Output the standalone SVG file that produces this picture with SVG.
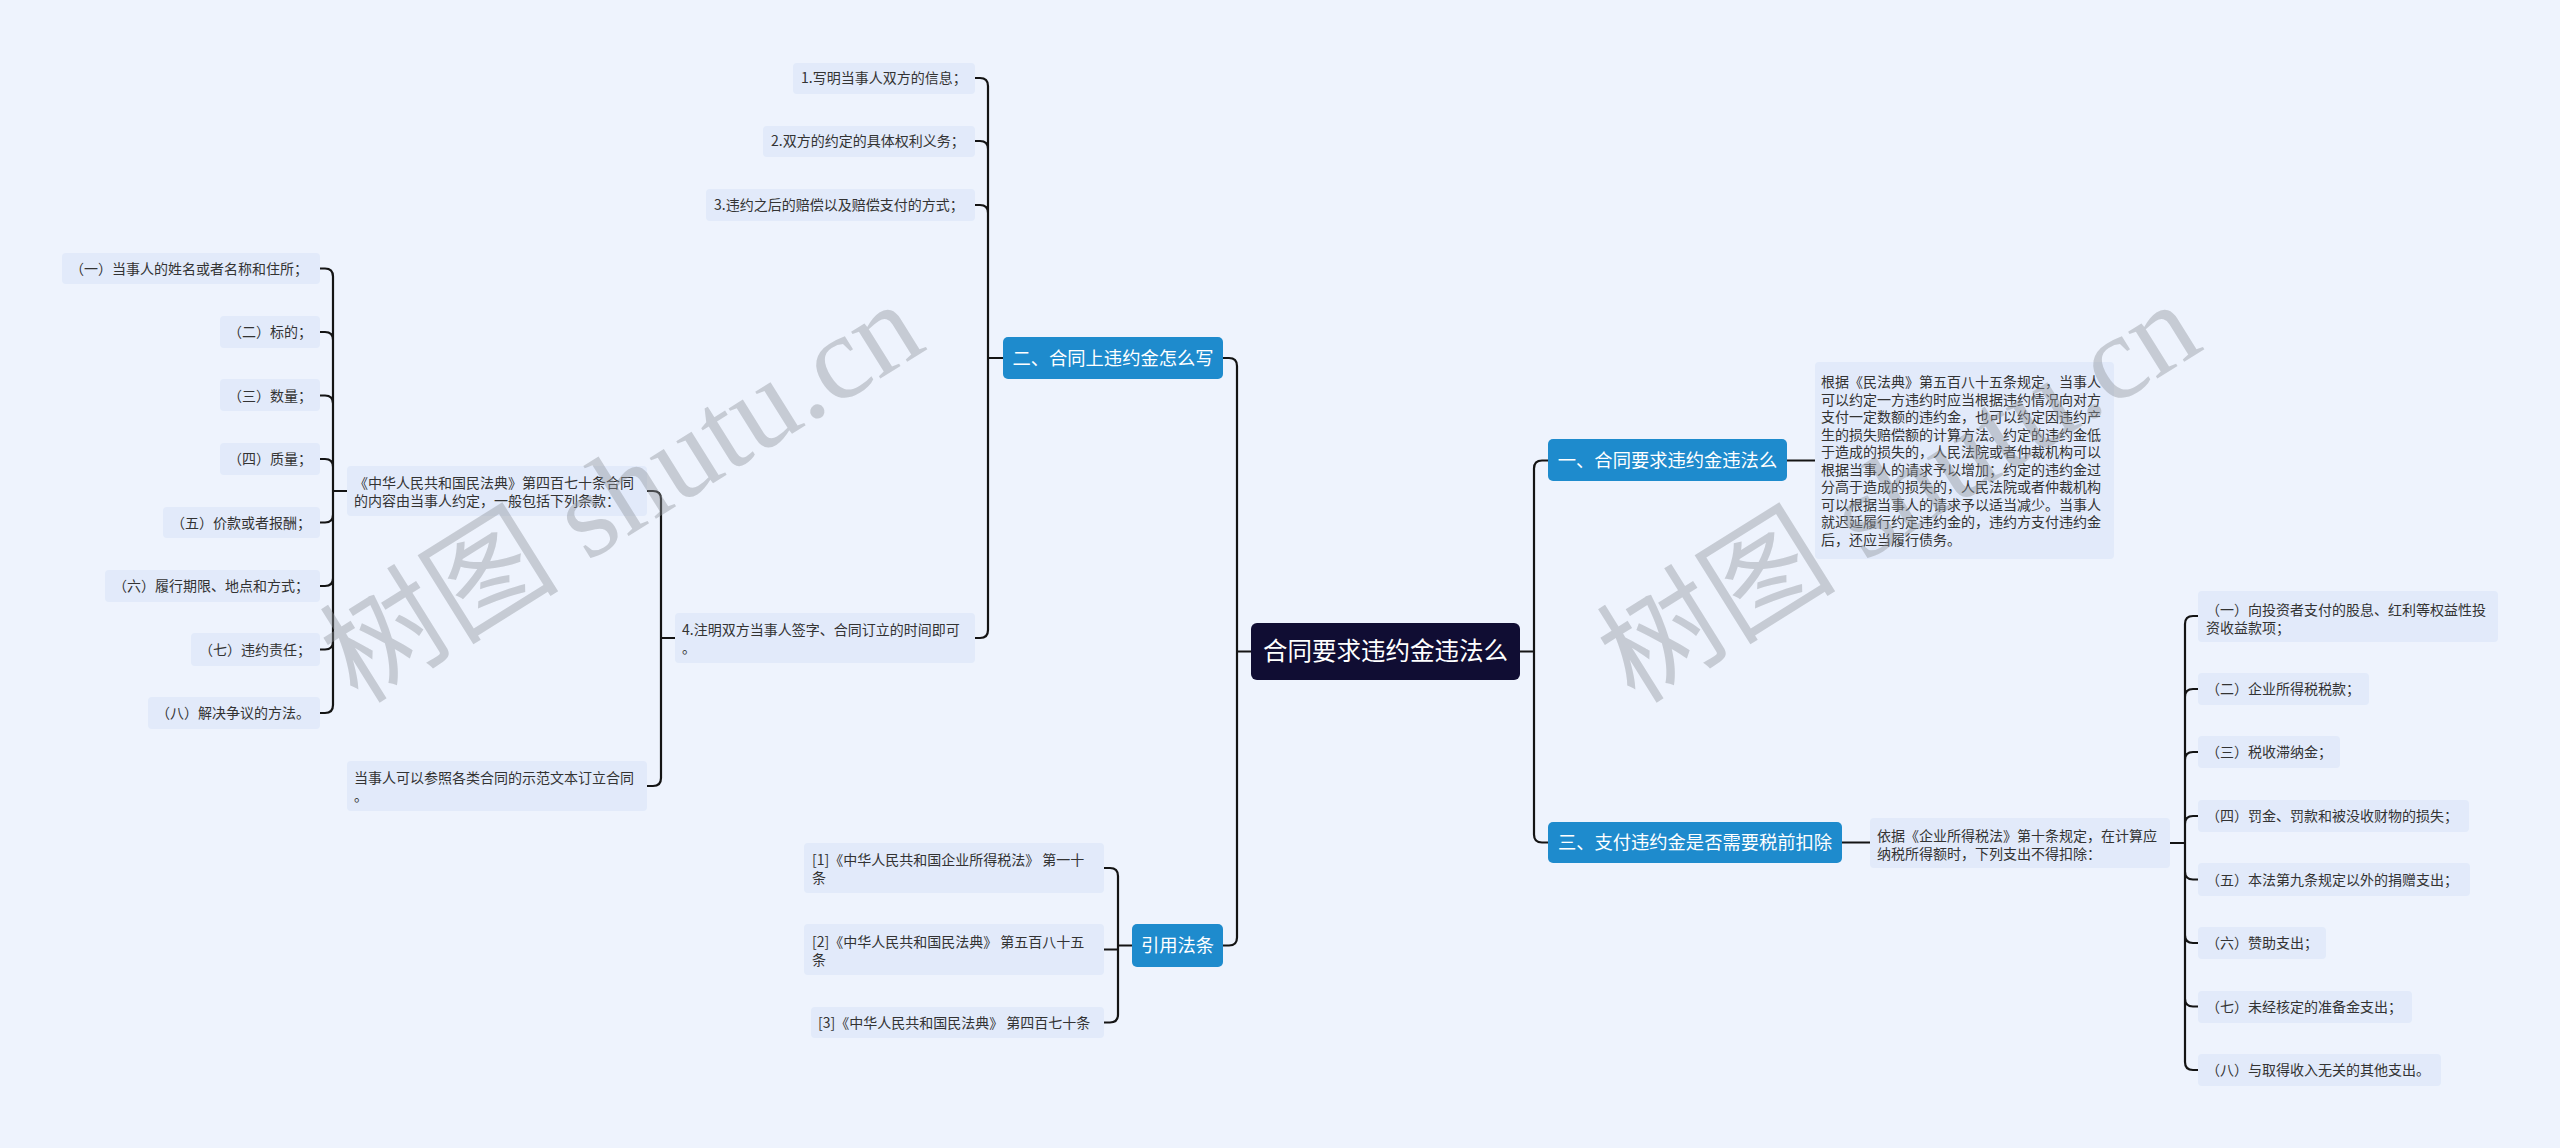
<svg xmlns="http://www.w3.org/2000/svg" width="2560" height="1148" viewBox="0 0 2560 1148">
<style>
.bg{fill:#eef3fd}
.n{fill:#e2eafa}
.b{fill:#1e8bcd}
.r{fill:#100d33}
.t{font-family:"Noto Sans CJK SC","Noto Sans",sans-serif;font-size:14px;fill:#333}
.bt{font-family:"Noto Sans CJK SC","Noto Sans",sans-serif;font-size:18.3px;fill:#fff;text-anchor:middle}
.rt{font-family:"Noto Sans CJK SC","Noto Sans",sans-serif;font-size:24.5px;fill:#fff;text-anchor:middle}
.c path{fill:none;stroke:#141414;stroke-width:2.2;stroke-linecap:round;stroke-linejoin:round}
.wm{font-family:"Liberation Serif","Noto Sans CJK SC",serif;font-size:120px;fill:#8e939c;fill-opacity:0.42}
</style>
<rect class="bg" x="0" y="0" width="2560" height="1148"/>

<g class="c" id="connectors">
<path d="M1251,651.5 H1237 M1237,651.5 V366 Q1237,358 1229,358 H1223 M1237,651.5 V937.5 Q1237,945.5 1229,945.5 H1223"/>
<path d="M1520,651.5 H1534 M1534,651.5 V468.5 Q1534,460.5 1542,460.5 H1548 M1534,651.5 V834.5 Q1534,842.5 1542,842.5 H1548"/>
<path d="M1787,460.5 H1815"/>
<path d="M1842,842.5 H1870"/>
<path d="M1003,358 H988 M988,358 V86 Q988,78 980,78 H975 M988,358 V149 Q988,141 980,141 H975 M988,358 V213 Q988,205 980,205 H975 M988,358 V630 Q988,638 980,638 H975"/>
<path d="M675,638 H661 M661,638 V499 Q661,491 653,491 H647 M661,638 V778 Q661,786 653,786 H647"/>
<path d="M347,491 H333 M333,491 V276.5 Q333,268.5 325,268.5 H320 M333,491 V340 Q333,332 325,332 H320 M333,491 V403.5 Q333,395.5 325,395.5 H320 M333,491 V467 Q333,459 325,459 H320 M333,491 V514.5 Q333,522.5 325,522.5 H320 M333,491 V578 Q333,586 325,586 H320 M333,491 V641.5 Q333,649.5 325,649.5 H320 M333,491 V705 Q333,713 325,713 H320"/>
<path d="M1132,945.5 H1118 M1118,945.5 V876 Q1118,868 1110,868 H1104 M1118,949.5 H1104 M1118,945.5 V1014.5 Q1118,1022.5 1110,1022.5 H1104"/>
<path d="M2170,843 H2185 M2185,843 V624 Q2185,616 2193,616 H2198 M2185,843 V697 Q2185,689 2193,689 H2198 M2185,843 V760 Q2185,752 2193,752 H2198 M2185,843 V824 Q2185,816 2193,816 H2198 M2185,843 V871.5 Q2185,879.5 2193,879.5 H2198 M2185,843 V935 Q2185,943 2193,943 H2198 M2185,843 V998.5 Q2185,1006.5 2193,1006.5 H2198 M2185,843 V1062 Q2185,1070 2193,1070 H2198"/>
</g>

<g id="root"><rect class="r" x="1251" y="623" width="269" height="57" rx="6"/><text class="rt" x="1385.5" y="660">合同要求违约金违法么</text></g>

<g id="n2"><rect class="b" x="1003" y="337" width="220" height="42" rx="5"/><text class="bt" x="1113" y="364.5">二、合同上违约金怎么写</text></g>
<g id="n2-1"><rect class="n" x="793" y="63" width="182" height="31" rx="4"/><text class="t" x="801" y="83">1.写明当事人双方的信息；</text></g>
<g id="n2-2"><rect class="n" x="763" y="126" width="212" height="31" rx="4"/><text class="t" x="771" y="146">2.双方的约定的具体权利义务；</text></g>
<g id="n2-3"><rect class="n" x="706" y="189" width="269" height="32" rx="4"/><text class="t" x="714" y="210">3.违约之后的赔偿以及赔偿支付的方式；</text></g>
<g id="n2-4"><rect class="n" x="675" y="613" width="300" height="50" rx="4"/><text class="t" x="682" y="635">4.注明双方当事人签字、合同订立的时间即可</text><text class="t" x="682" y="653">。</text></g>
<g id="n2-4-1"><rect class="n" x="347" y="466" width="300" height="50" rx="4"/><text class="t" x="354" y="488">《中华人民共和国民法典》第四百七十条合同</text><text class="t" x="354" y="506">的内容由当事人约定，一般包括下列条款：</text></g>
<g id="n2-4-2"><rect class="n" x="347" y="761" width="300" height="50" rx="4"/><text class="t" x="354" y="783">当事人可以参照各类合同的示范文本订立合同</text><text class="t" x="354" y="801">。</text></g>
<g id="c1"><rect class="n" x="62" y="253" width="258" height="31" rx="4"/><text class="t" x="70" y="273.5">（一）当事人的姓名或者名称和住所；</text></g>
<g id="c2"><rect class="n" x="220" y="316" width="100" height="32" rx="4"/><text class="t" x="228" y="337">（二）标的；</text></g>
<g id="c3"><rect class="n" x="220" y="379" width="100" height="32" rx="4"/><text class="t" x="228" y="400.5">（三）数量；</text></g>
<g id="c4"><rect class="n" x="220" y="443" width="100" height="32" rx="4"/><text class="t" x="228" y="464">（四）质量；</text></g>
<g id="c5"><rect class="n" x="163" y="507" width="157" height="31" rx="4"/><text class="t" x="171" y="527.5">（五）价款或者报酬；</text></g>
<g id="c6"><rect class="n" x="105" y="570" width="215" height="32" rx="4"/><text class="t" x="113" y="591">（六）履行期限、地点和方式；</text></g>
<g id="c7"><rect class="n" x="191" y="633" width="129" height="33" rx="4"/><text class="t" x="199" y="654.5">（七）违约责任；</text></g>
<g id="c8"><rect class="n" x="148" y="697" width="172" height="32" rx="4"/><text class="t" x="156" y="718">（八）解决争议的方法。</text></g>

<g id="n4"><rect class="b" x="1132" y="924" width="91" height="43" rx="5"/><text class="bt" x="1177.5" y="952">引用法条</text></g>
<g id="ref1"><rect class="n" x="804" y="843" width="300" height="50" rx="4"/><text class="t" x="812" y="865">[1]《中华人民共和国企业所得税法》 第一十</text><text class="t" x="812" y="883">条</text></g>
<g id="ref2"><rect class="n" x="804" y="924" width="300" height="51" rx="4"/><text class="t" x="812" y="947">[2]《中华人民共和国民法典》 第五百八十五</text><text class="t" x="812" y="965">条</text></g>
<g id="ref3"><rect class="n" x="811" y="1007" width="293" height="31" rx="4"/><text class="t" x="818" y="1027.5">[3]《中华人民共和国民法典》 第四百七十条</text></g>

<g id="n1"><rect class="b" x="1548" y="439" width="239" height="42" rx="5"/><text class="bt" x="1667.5" y="467">一、合同要求违约金违法么</text></g>
<g id="n1-1"><rect class="n" x="1815" y="362" width="299" height="197" rx="4"/>
<text class="t" x="1821" y="387">根据《民法典》第五百八十五条规定，当事人</text>
<text class="t" x="1821" y="404.5">可以约定一方违约时应当根据违约情况向对方</text>
<text class="t" x="1821" y="422">支付一定数额的违约金，也可以约定因违约产</text>
<text class="t" x="1821" y="439.5">生的损失赔偿额的计算方法。约定的违约金低</text>
<text class="t" x="1821" y="457">于造成的损失的，人民法院或者仲裁机构可以</text>
<text class="t" x="1821" y="474.5">根据当事人的请求予以增加；约定的违约金过</text>
<text class="t" x="1821" y="492">分高于造成的损失的，人民法院或者仲裁机构</text>
<text class="t" x="1821" y="509.5">可以根据当事人的请求予以适当减少。当事人</text>
<text class="t" x="1821" y="527">就迟延履行约定违约金的，违约方支付违约金</text>
<text class="t" x="1821" y="544.5">后，还应当履行债务。</text></g>

<g id="n3"><rect class="b" x="1548" y="822" width="294" height="41" rx="5"/><text class="bt" x="1695" y="849">三、支付违约金是否需要税前扣除</text></g>
<g id="n3-1"><rect class="n" x="1870" y="818" width="300" height="50" rx="4"/><text class="t" x="1877" y="841">依据《企业所得税法》第十条规定，在计算应</text><text class="t" x="1877" y="859">纳税所得额时，下列支出不得扣除：</text></g>
<g id="d1"><rect class="n" x="2198" y="591" width="300" height="51" rx="4"/><text class="t" x="2206" y="614.5">（一）向投资者支付的股息、红利等权益性投</text><text class="t" x="2206" y="633">资收益款项；</text></g>
<g id="d2"><rect class="n" x="2198" y="673" width="171" height="32" rx="4"/><text class="t" x="2206" y="694">（二）企业所得税税款；</text></g>
<g id="d3"><rect class="n" x="2198" y="736" width="142" height="32" rx="4"/><text class="t" x="2206" y="757">（三）税收滞纳金；</text></g>
<g id="d4"><rect class="n" x="2198" y="800" width="271" height="32" rx="4"/><text class="t" x="2206" y="821">（四）罚金、罚款和被没收财物的损失；</text></g>
<g id="d5"><rect class="n" x="2198" y="863" width="272" height="33" rx="4"/><text class="t" x="2206" y="884.5">（五）本法第九条规定以外的捐赠支出；</text></g>
<g id="d6"><rect class="n" x="2198" y="927" width="128" height="32" rx="4"/><text class="t" x="2206" y="948">（六）赞助支出；</text></g>
<g id="d7"><rect class="n" x="2198" y="991" width="214" height="32" rx="4"/><text class="t" x="2206" y="1011.5">（七）未经核定的准备金支出；</text></g>
<g id="d8"><rect class="n" x="2198" y="1054" width="243" height="32" rx="4"/><text class="t" x="2206" y="1075">（八）与取得收入无关的其他支出。</text></g>

<g id="watermark">
<text class="wm" transform="translate(358,705) rotate(-32)">树图 shutu.cn</text>
<text class="wm" transform="translate(1635,705) rotate(-32)">树图 shutu.cn</text>
</g>
</svg>
